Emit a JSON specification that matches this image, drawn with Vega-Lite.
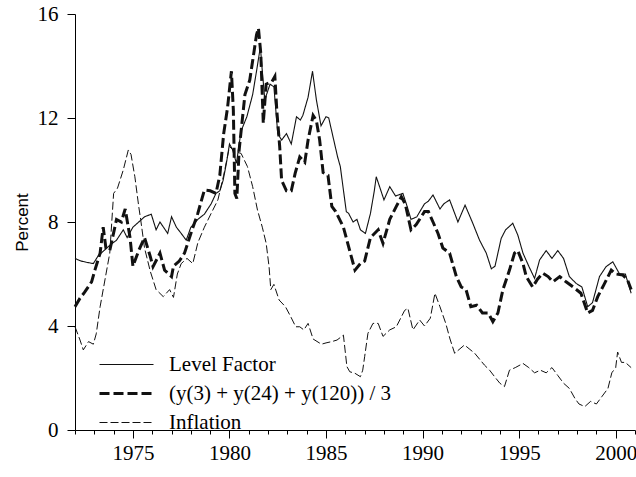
{
  "$schema": "https://vega.github.io/schema/vega-lite/v6.json",
  "autosize": {"type": "none"},
  "width": 560,
  "height": 416,
  "padding": {"left": 75, "top": 14, "right": 1, "bottom": 47},
  "background": "white",
  "config": {"view": {"stroke": null}, "axis": {"grid": false}},
  "data": {"values": [
{"s":"a","t":1972.0,"v":6.6},{"s":"a","t":1972.3,"v":6.5},{"s":"a","t":1972.6,"v":6.45},{"s":"a","t":1972.95,"v":6.4},{"s":"a","t":1973.2,"v":6.7},{"s":"a","t":1973.5,"v":6.9},{"s":"a","t":1973.8,"v":7.1},{"s":"a","t":1974.15,"v":7.3},{"s":"a","t":1974.5,"v":7.7},{"s":"a","t":1974.7,"v":7.4},{"s":"a","t":1975.0,"v":7.8},{"s":"a","t":1975.3,"v":8.0},{"s":"a","t":1975.6,"v":8.2},{"s":"a","t":1975.95,"v":8.3},{"s":"a","t":1976.2,"v":7.7},{"s":"a","t":1976.4,"v":8.0},{"s":"a","t":1976.8,"v":7.56},{"s":"a","t":1977.0,"v":8.2},{"s":"a","t":1977.25,"v":7.8},{"s":"a","t":1977.5,"v":7.56},{"s":"a","t":1977.76,"v":7.3},{"s":"a","t":1978.0,"v":7.8},{"s":"a","t":1978.36,"v":8.1},{"s":"a","t":1978.7,"v":8.3},{"s":"a","t":1979.05,"v":8.7},{"s":"a","t":1979.3,"v":9.1},{"s":"a","t":1979.5,"v":9.2},{"s":"a","t":1979.67,"v":9.6},{"s":"a","t":1979.85,"v":10.3},{"s":"a","t":1980.0,"v":11.0},{"s":"a","t":1980.15,"v":10.8},{"s":"a","t":1980.36,"v":10.26},{"s":"a","t":1980.6,"v":11.5},{"s":"a","t":1980.9,"v":12.05},{"s":"a","t":1981.2,"v":12.9},{"s":"a","t":1981.4,"v":13.8},{"s":"a","t":1981.6,"v":14.74},{"s":"a","t":1981.7,"v":13.8},{"s":"a","t":1981.83,"v":12.7},{"s":"a","t":1982.1,"v":13.3},{"s":"a","t":1982.3,"v":13.2},{"s":"a","t":1982.5,"v":11.4},{"s":"a","t":1982.7,"v":11.15},{"s":"a","t":1982.95,"v":11.4},{"s":"a","t":1983.2,"v":11.0},{"s":"a","t":1983.47,"v":12.05},{"s":"a","t":1983.67,"v":11.92},{"s":"a","t":1983.8,"v":12.1},{"s":"a","t":1984.07,"v":12.8},{"s":"a","t":1984.3,"v":13.8},{"s":"a","t":1984.5,"v":12.7},{"s":"a","t":1984.74,"v":11.7},{"s":"a","t":1985.0,"v":12.05},{"s":"a","t":1985.14,"v":12.0},{"s":"a","t":1985.4,"v":11.15},{"s":"a","t":1985.6,"v":10.5},{"s":"a","t":1985.74,"v":10.13},{"s":"a","t":1985.9,"v":9.23},{"s":"a","t":1986.05,"v":8.4},{"s":"a","t":1986.17,"v":8.33},{"s":"a","t":1986.4,"v":8.0},{"s":"a","t":1986.6,"v":8.1},{"s":"a","t":1986.78,"v":7.7},{"s":"a","t":1987.04,"v":7.56},{"s":"a","t":1987.3,"v":8.33},{"s":"a","t":1987.5,"v":9.2},{"s":"a","t":1987.6,"v":9.74},{"s":"a","t":1987.8,"v":9.3},{"s":"a","t":1988.0,"v":8.85},{"s":"a","t":1988.3,"v":9.36},{"s":"a","t":1988.6,"v":9.0},{"s":"a","t":1988.98,"v":9.1},{"s":"a","t":1989.2,"v":8.6},{"s":"a","t":1989.4,"v":8.1},{"s":"a","t":1989.7,"v":8.2},{"s":"a","t":1990.1,"v":8.7},{"s":"a","t":1990.3,"v":8.8},{"s":"a","t":1990.54,"v":9.04},{"s":"a","t":1990.9,"v":8.5},{"s":"a","t":1991.1,"v":8.7},{"s":"a","t":1991.4,"v":8.85},{"s":"a","t":1991.83,"v":8.0},{"s":"a","t":1992.2,"v":8.65},{"s":"a","t":1992.6,"v":7.95},{"s":"a","t":1992.95,"v":7.3},{"s":"a","t":1993.3,"v":6.8},{"s":"a","t":1993.56,"v":6.2},{"s":"a","t":1993.75,"v":6.3},{"s":"a","t":1994.07,"v":7.37},{"s":"a","t":1994.3,"v":7.7},{"s":"a","t":1994.67,"v":7.95},{"s":"a","t":1994.93,"v":7.5},{"s":"a","t":1995.2,"v":6.8},{"s":"a","t":1995.5,"v":6.3},{"s":"a","t":1995.8,"v":5.83},{"s":"a","t":1996.06,"v":6.54},{"s":"a","t":1996.4,"v":6.9},{"s":"a","t":1996.7,"v":6.6},{"s":"a","t":1997.0,"v":6.9},{"s":"a","t":1997.3,"v":6.6},{"s":"a","t":1997.6,"v":5.9},{"s":"a","t":1997.95,"v":5.64},{"s":"a","t":1998.25,"v":5.5},{"s":"a","t":1998.55,"v":4.74},{"s":"a","t":1998.8,"v":4.9},{"s":"a","t":1999.16,"v":5.9},{"s":"a","t":1999.5,"v":6.28},{"s":"a","t":1999.85,"v":6.47},{"s":"a","t":2000.2,"v":6.0},{"s":"a","t":2000.5,"v":6.0},{"s":"a","t":2000.8,"v":5.26},
{"s":"b","t":1972.0,"v":4.74},{"s":"b","t":1972.26,"v":5.07},{"s":"b","t":1972.5,"v":5.3},{"s":"b","t":1972.86,"v":5.7},{"s":"b","t":1973.03,"v":6.15},{"s":"b","t":1973.3,"v":6.8},{"s":"b","t":1973.46,"v":7.8},{"s":"b","t":1973.6,"v":7.0},{"s":"b","t":1973.8,"v":6.9},{"s":"b","t":1974.15,"v":8.1},{"s":"b","t":1974.4,"v":8.0},{"s":"b","t":1974.6,"v":8.5},{"s":"b","t":1974.85,"v":7.4},{"s":"b","t":1975.0,"v":6.3},{"s":"b","t":1975.3,"v":6.9},{"s":"b","t":1975.6,"v":7.4},{"s":"b","t":1975.9,"v":6.67},{"s":"b","t":1976.04,"v":6.28},{"s":"b","t":1976.4,"v":6.8},{"s":"b","t":1976.64,"v":6.15},{"s":"b","t":1977.0,"v":5.9},{"s":"b","t":1977.1,"v":6.3},{"s":"b","t":1977.4,"v":6.5},{"s":"b","t":1977.67,"v":6.8},{"s":"b","t":1978.0,"v":7.56},{"s":"b","t":1978.36,"v":8.33},{"s":"b","t":1978.7,"v":9.23},{"s":"b","t":1979.0,"v":9.2},{"s":"b","t":1979.3,"v":9.1},{"s":"b","t":1979.5,"v":9.8},{"s":"b","t":1979.7,"v":11.4},{"s":"b","t":1979.9,"v":12.4},{"s":"b","t":1980.1,"v":13.8},{"s":"b","t":1980.2,"v":12.3},{"s":"b","t":1980.28,"v":9.1},{"s":"b","t":1980.38,"v":8.9},{"s":"b","t":1980.5,"v":10.77},{"s":"b","t":1980.8,"v":12.9},{"s":"b","t":1981.05,"v":13.46},{"s":"b","t":1981.2,"v":14.2},{"s":"b","t":1981.4,"v":15.2},{"s":"b","t":1981.5,"v":15.45},{"s":"b","t":1981.62,"v":14.5},{"s":"b","t":1981.75,"v":11.8},{"s":"b","t":1981.9,"v":13.3},{"s":"b","t":1982.2,"v":13.4},{"s":"b","t":1982.35,"v":13.6},{"s":"b","t":1982.45,"v":12.3},{"s":"b","t":1982.6,"v":10.9},{"s":"b","t":1982.7,"v":9.6},{"s":"b","t":1982.95,"v":9.2},{"s":"b","t":1983.2,"v":9.2},{"s":"b","t":1983.4,"v":9.87},{"s":"b","t":1983.64,"v":10.5},{"s":"b","t":1983.9,"v":10.3},{"s":"b","t":1984.07,"v":11.15},{"s":"b","t":1984.33,"v":12.1},{"s":"b","t":1984.5,"v":11.9},{"s":"b","t":1984.67,"v":11.15},{"s":"b","t":1984.85,"v":9.9},{"s":"b","t":1985.1,"v":9.8},{"s":"b","t":1985.3,"v":8.6},{"s":"b","t":1985.5,"v":8.4},{"s":"b","t":1985.9,"v":7.8},{"s":"b","t":1986.08,"v":7.3},{"s":"b","t":1986.26,"v":6.8},{"s":"b","t":1986.5,"v":6.15},{"s":"b","t":1986.78,"v":6.4},{"s":"b","t":1987.0,"v":6.5},{"s":"b","t":1987.3,"v":7.4},{"s":"b","t":1987.7,"v":7.7},{"s":"b","t":1987.95,"v":7.18},{"s":"b","t":1988.3,"v":8.1},{"s":"b","t":1988.64,"v":8.6},{"s":"b","t":1988.9,"v":8.97},{"s":"b","t":1989.1,"v":8.7},{"s":"b","t":1989.4,"v":7.7},{"s":"b","t":1989.67,"v":7.9},{"s":"b","t":1990.1,"v":8.4},{"s":"b","t":1990.3,"v":8.4},{"s":"b","t":1990.54,"v":8.0},{"s":"b","t":1990.8,"v":7.56},{"s":"b","t":1991.05,"v":7.0},{"s":"b","t":1991.4,"v":6.8},{"s":"b","t":1991.75,"v":5.9},{"s":"b","t":1992.0,"v":5.5},{"s":"b","t":1992.25,"v":5.4},{"s":"b","t":1992.5,"v":4.74},{"s":"b","t":1992.8,"v":4.8},{"s":"b","t":1993.1,"v":4.5},{"s":"b","t":1993.4,"v":4.5},{"s":"b","t":1993.64,"v":4.17},{"s":"b","t":1993.9,"v":4.5},{"s":"b","t":1994.16,"v":5.4},{"s":"b","t":1994.5,"v":6.15},{"s":"b","t":1994.76,"v":6.8},{"s":"b","t":1994.93,"v":6.9},{"s":"b","t":1995.2,"v":6.4},{"s":"b","t":1995.37,"v":5.9},{"s":"b","t":1995.7,"v":5.5},{"s":"b","t":1995.95,"v":5.8},{"s":"b","t":1996.23,"v":6.03},{"s":"b","t":1996.5,"v":5.9},{"s":"b","t":1996.75,"v":5.7},{"s":"b","t":1997.1,"v":5.9},{"s":"b","t":1997.43,"v":5.7},{"s":"b","t":1997.8,"v":5.5},{"s":"b","t":1998.2,"v":5.26},{"s":"b","t":1998.55,"v":4.5},{"s":"b","t":1998.8,"v":4.6},{"s":"b","t":1999.07,"v":5.13},{"s":"b","t":1999.4,"v":5.6},{"s":"b","t":1999.77,"v":6.15},{"s":"b","t":2000.0,"v":6.0},{"s":"b","t":2000.37,"v":5.96},{"s":"b","t":2000.6,"v":5.8},{"s":"b","t":2000.8,"v":5.4},
{"s":"c","t":1972.0,"v":3.97},{"s":"c","t":1972.26,"v":3.46},{"s":"c","t":1972.43,"v":3.08},{"s":"c","t":1972.7,"v":3.4},{"s":"c","t":1972.95,"v":3.3},{"s":"c","t":1973.1,"v":3.7},{"s":"c","t":1973.3,"v":4.74},{"s":"c","t":1973.55,"v":5.77},{"s":"c","t":1973.8,"v":6.8},{"s":"c","t":1974.0,"v":9.1},{"s":"c","t":1974.2,"v":9.3},{"s":"c","t":1974.5,"v":10.0},{"s":"c","t":1974.76,"v":10.77},{"s":"c","t":1974.9,"v":10.6},{"s":"c","t":1975.1,"v":9.74},{"s":"c","t":1975.3,"v":8.6},{"s":"c","t":1975.4,"v":8.1},{"s":"c","t":1975.6,"v":7.0},{"s":"c","t":1975.9,"v":6.1},{"s":"c","t":1976.2,"v":5.4},{"s":"c","t":1976.57,"v":5.13},{"s":"c","t":1976.9,"v":5.4},{"s":"c","t":1977.1,"v":5.1},{"s":"c","t":1977.3,"v":6.0},{"s":"c","t":1977.5,"v":6.4},{"s":"c","t":1977.8,"v":6.6},{"s":"c","t":1978.1,"v":6.4},{"s":"c","t":1978.36,"v":7.2},{"s":"c","t":1978.7,"v":7.8},{"s":"c","t":1979.05,"v":8.33},{"s":"c","t":1979.4,"v":8.85},{"s":"c","t":1979.7,"v":9.8},{"s":"c","t":1980.0,"v":10.9},{"s":"c","t":1980.3,"v":10.7},{"s":"c","t":1980.6,"v":10.64},{"s":"c","t":1980.93,"v":10.13},{"s":"c","t":1981.2,"v":9.36},{"s":"c","t":1981.45,"v":8.46},{"s":"c","t":1981.7,"v":7.8},{"s":"c","t":1981.9,"v":7.18},{"s":"c","t":1982.05,"v":6.28},{"s":"c","t":1982.14,"v":5.4},{"s":"c","t":1982.3,"v":5.6},{"s":"c","t":1982.57,"v":5.0},{"s":"c","t":1982.9,"v":4.74},{"s":"c","t":1983.17,"v":4.36},{"s":"c","t":1983.43,"v":3.97},{"s":"c","t":1983.64,"v":3.97},{"s":"c","t":1983.85,"v":3.85},{"s":"c","t":1984.07,"v":4.1},{"s":"c","t":1984.33,"v":3.5},{"s":"c","t":1984.76,"v":3.3},{"s":"c","t":1985.0,"v":3.35},{"s":"c","t":1985.3,"v":3.4},{"s":"c","t":1985.57,"v":3.46},{"s":"c","t":1985.9,"v":3.65},{"s":"c","t":1986.08,"v":2.44},{"s":"c","t":1986.23,"v":2.24},{"s":"c","t":1986.5,"v":2.18},{"s":"c","t":1986.78,"v":2.05},{"s":"c","t":1986.9,"v":2.3},{"s":"c","t":1987.0,"v":2.82},{"s":"c","t":1987.17,"v":3.72},{"s":"c","t":1987.43,"v":4.1},{"s":"c","t":1987.7,"v":4.1},{"s":"c","t":1987.95,"v":3.6},{"s":"c","t":1988.3,"v":3.85},{"s":"c","t":1988.64,"v":3.97},{"s":"c","t":1989.07,"v":4.6},{"s":"c","t":1989.24,"v":4.68},{"s":"c","t":1989.5,"v":3.85},{"s":"c","t":1989.85,"v":4.23},{"s":"c","t":1990.1,"v":4.0},{"s":"c","t":1990.4,"v":4.3},{"s":"c","t":1990.64,"v":5.26},{"s":"c","t":1990.9,"v":4.74},{"s":"c","t":1991.2,"v":4.1},{"s":"c","t":1991.42,"v":3.5},{"s":"c","t":1991.66,"v":2.95},{"s":"c","t":1992.17,"v":3.27},{"s":"c","t":1992.45,"v":3.1},{"s":"c","t":1992.7,"v":2.95},{"s":"c","t":1993.2,"v":2.5},{"s":"c","t":1993.47,"v":2.3},{"s":"c","t":1993.73,"v":2.05},{"s":"c","t":1994.0,"v":1.8},{"s":"c","t":1994.24,"v":1.67},{"s":"c","t":1994.5,"v":2.3},{"s":"c","t":1994.8,"v":2.4},{"s":"c","t":1995.2,"v":2.56},{"s":"c","t":1995.5,"v":2.4},{"s":"c","t":1995.8,"v":2.2},{"s":"c","t":1996.1,"v":2.3},{"s":"c","t":1996.4,"v":2.2},{"s":"c","t":1996.7,"v":2.4},{"s":"c","t":1997.0,"v":2.1},{"s":"c","t":1997.3,"v":1.8},{"s":"c","t":1997.6,"v":1.6},{"s":"c","t":1997.9,"v":1.2},{"s":"c","t":1998.1,"v":1.0},{"s":"c","t":1998.4,"v":0.9},{"s":"c","t":1998.7,"v":1.1},{"s":"c","t":1999.0,"v":1.0},{"s":"c","t":1999.3,"v":1.3},{"s":"c","t":1999.6,"v":1.6},{"s":"c","t":1999.8,"v":2.2},{"s":"c","t":2000.0,"v":2.4},{"s":"c","t":2000.1,"v":3.0},{"s":"c","t":2000.3,"v":2.6},{"s":"c","t":2000.5,"v":2.6},{"s":"c","t":2000.8,"v":2.4}
  ]},
  "mark": {"type": "line", "strokeCap": "butt", "strokeJoin": "miter"},
  "encoding": {
    "x": {
      "field": "t", "type": "quantitative",
      "scale": {"domain": [1972, 2001], "nice": false, "zero": false},
      "axis": {
        "title": null,
        "values": [1972,1973,1974,1975,1976,1977,1978,1979,1980,1981,1982,1983,1984,1985,1986,1987,1988,1989,1990,1991,1992,1993,1994,1995,1996,1997,1998,1999,2000,2001],
        "format": "d",
        "labelExpr": "datum.value % 5 === 0 ? datum.label : ''",
        "tickSize": {"condition": {"test": "datum.value % 5 === 0", "value": 8}, "value": 4},
        "domainColor": "black", "tickColor": "black", "domainWidth": 1, "tickWidth": 1,
        "labelFont": "Liberation Serif", "labelFontSize": 21, "labelColor": "black",
        "labelPadding": 4, "labelFlush": false, "labelOverlap": false
      }
    },
    "y": {
      "field": "v", "type": "quantitative",
      "scale": {"domain": [0, 16], "nice": false},
      "axis": {
        "title": "Percent", "titleFont": "Liberation Sans", "titleFontSize": 17, "titleFontWeight": "normal", "titleColor": "black", "titlePadding": 6,
        "values": [0, 4, 8, 12, 16],
        "tickSize": 8, "domainColor": "black", "tickColor": "black", "domainWidth": 1, "tickWidth": 1,
        "labelFont": "Liberation Serif", "labelFontSize": 21, "labelColor": "black", "labelPadding": 9
      }
    },
    "color": {
      "field": "s", "type": "nominal",
      "scale": {"domain": ["a", "b", "c"], "range": ["#111111", "#111111", "#111111"]},
      "legend": {
        "title": null, "orient": "none", "legendX": 41, "legendY": 340,
        "symbolType": "M-3,0H3", "symbolSize": 324, "labelOffset": 32,
        "labelFont": "Liberation Serif", "labelFontSize": 21, "labelColor": "black", "labelLimit": 0,
        "rowPadding": 7, "padding": 0, "symbolFillColor": "transparent",
        "labelExpr": "datum.value === 'a' ? 'Level Factor' : datum.value === 'b' ? '(y(3) + y(24) + y(120)) / 3' : 'Inflation'"
      }
    },
    "strokeDash": {
      "field": "s", "type": "nominal",
      "scale": {"domain": ["a", "b", "c"], "range": [[1, 0], [10, 4], [8, 3]]},
      "legend": null
    },
    "strokeWidth": {
      "field": "s", "type": "nominal",
      "scale": {"type": "ordinal", "domain": ["a", "b", "c"], "range": [1.1, 3, 1]},
      "legend": null
    }
  }
}
